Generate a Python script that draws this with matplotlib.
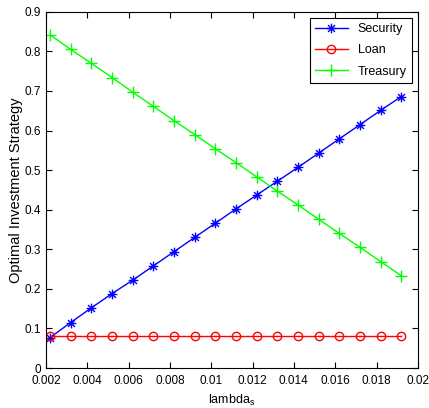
import matplotlib.pyplot as plt
import numpy as np
from matplotlib.path import Path

plt.rcParams['font.family'] = ['Liberation Sans', 'DejaVu Sans']

# lambda_s values
lam = [0.0022, 0.0032, 0.0042, 0.0052, 0.0062, 0.0072, 0.0082, 0.0092, 0.0102,
       0.0112, 0.0122, 0.0132, 0.0142, 0.0152, 0.0162, 0.0172, 0.0182, 0.0192]
security = [0.077, 0.115, 0.152, 0.188, 0.222, 0.258, 0.294, 0.330, 0.366,
            0.402, 0.437, 0.472, 0.507, 0.543, 0.579, 0.615, 0.651, 0.686]
loan = [0.081] * 18
treasury = [0.842, 0.805, 0.770, 0.734, 0.697, 0.661, 0.625, 0.590, 0.554,
            0.519, 0.483, 0.447, 0.412, 0.376, 0.340, 0.305, 0.269, 0.233]

# matlab-like asterisk marker (line spokes only)
d = 0.7071
verts = [(-1, 0), (1, 0), (0, -1), (0, 1), (-d, -d), (d, d), (-d, d), (d, -d)]
codes = [Path.MOVETO, Path.LINETO] * 4
star = Path(verts, codes)

fig = plt.figure(figsize=(4.29, 4.08), dpi=100)
ax = fig.add_axes([0.107, 0.098, 0.867, 0.873])

ax.plot(lam, security, color='#0000ff', marker=star, markersize=7, lw=1, label='Security')
ax.plot(lam, loan, color='#ff0000', marker='o', markersize=6, markerfacecolor='none', lw=1, label='Loan')
ax.plot(lam, treasury, color='#00ff00', marker='+', markersize=8, lw=1, label='Treasury')

ax.set_xlim(0.002, 0.02)
ax.set_ylim(0, 0.9)
ax.set_xticks(np.arange(0.002, 0.0201, 0.002))
ax.set_xticklabels(['0.002', '0.004', '0.006', '0.008', '0.01', '0.012',
                    '0.014', '0.016', '0.018', '0.02'])
ax.set_yticks(np.arange(0, 0.91, 0.1))
ax.set_yticklabels(['0', '0.1', '0.2', '0.3', '0.4', '0.5', '0.6', '0.7', '0.8', '0.9'])
ax.tick_params(direction='in', top=True, right=True, labelsize=8.5, length=4)
ax.tick_params(axis='x', pad=5)
for s in ax.spines.values():
    s.set_linewidth(0.8)

ax.set_xlabel('lambda$_{\\mathregular{s}}$', fontsize=9)
ax.set_ylabel('Optimal Investment Strategy', fontsize=10.5, labelpad=1)

leg = ax.legend(loc='upper right', fontsize=9, fancybox=False, framealpha=1,
                edgecolor='black', borderaxespad=0.5, handlelength=2.6,
                labelspacing=0.75)
leg.get_frame().set_linewidth(0.8)

fig.savefig('out.png', dpi=100)
